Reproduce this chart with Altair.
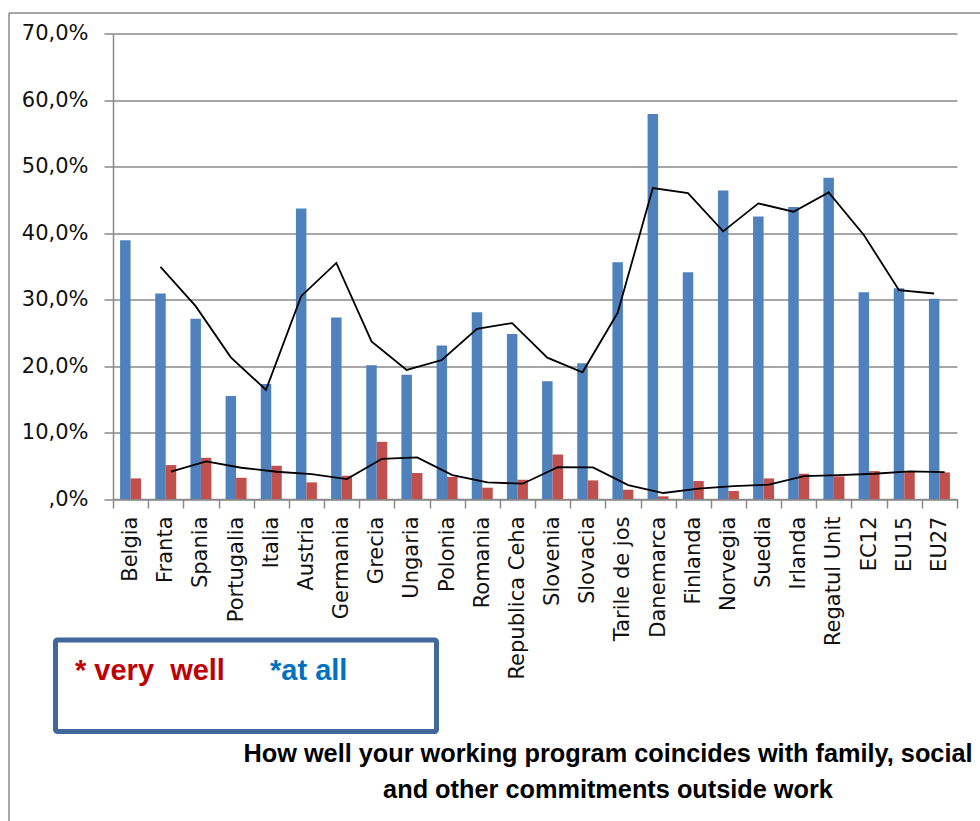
import altair as alt
import pandas as pd

countries = ["Belgia", "Franta", "Spania", "Portugalia", "Italia", "Austria", "Germania",
             "Grecia", "Ungaria", "Polonia", "Romania", "Republica Ceha", "Slovenia",
             "Slovacia", "Tarile de jos", "Danemarca", "Finlanda", "Norvegia", "Suedia",
             "Irlanda", "Regatul Unit", "EC12", "EU15", "EU27"]
at_all = [38.9, 30.9, 27.1, 15.5, 17.3, 43.7, 27.3, 20.1, 18.7, 23.1, 28.1, 24.8,
          17.7, 20.4, 35.6, 57.9, 34.1, 46.4, 42.5, 43.9, 48.3, 31.1, 31.7, 30.1]
very_well = [3.1, 5.1, 6.2, 3.2, 5.0, 2.5, 3.5, 8.6, 3.9, 3.3, 1.7, 2.9,
             6.7, 2.8, 1.4, 0.4, 2.7, 1.2, 3.1, 3.8, 3.4, 4.2, 4.1, 4.0]
series_names = ["at all", "very well"]
series_colors = ["#4f81bd", "#c0504d"]
y_ticks = [0, 10, 20, 30, 40, 50, 60, 70]
legend_texts = ["*\u00a0very \u00a0well", "*at all"]
legend_colors = ["#c00000", "#0070c0"]
title_lines = ["How well your working program coincides with family, social",
               "and other commitments outside work"]

rows = []
for i, c in enumerate(countries):
    rows.append({"country": c, "idx": i, "series": series_names[0], "value": at_all[i]})
    rows.append({"country": c, "idx": i, "series": series_names[1], "value": very_well[i]})
df = pd.DataFrame(rows)

GRAY = "#8a8a8a"
AXFONT = "DejaVu Sans"

x_enc = alt.X(
    "country:N", sort=countries,
    scale=alt.Scale(paddingInner=0, paddingOuter=0),
    axis=alt.Axis(title=None, labelAngle=-90, tickBand="extent", grid=False,
                  domainColor=GRAY, domainWidth=1.5, tickColor=GRAY, tickWidth=1.5,
                  tickSize=9, labelPadding=8, labelFont=AXFONT, labelFontSize=21,
                  labelColor="#111111", labelLimit=400),
)
y_axis = alt.Axis(
    title=None, values=y_ticks,
    labelExpr="datum.value == 0 ? ',0%' : replace(format(datum.value, '.1f'), '.', ',') + '%'",
    grid=True, gridColor=GRAY, gridWidth=1.5, domainColor=GRAY, domainWidth=1.5,
    tickColor=GRAY, tickWidth=1.5, tickSize=9, labelPadding=16,
    labelFont=AXFONT, labelFontSize=21, labelColor="#111111",
)
y_scale = alt.Scale(domain=[0, 70], nice=False)

bars = alt.Chart(df).mark_bar().encode(
    x=x_enc,
    xOffset=alt.XOffset("series:N", sort=series_names,
                        scale=alt.Scale(paddingOuter=0.675, paddingInner=0)),
    y=alt.Y("value:Q", scale=y_scale, axis=y_axis),
    color=alt.Color("series:N", scale=alt.Scale(domain=series_names, range=series_colors),
                    legend=None),
)


def ma_line(name, off):
    return (
        alt.Chart(df)
        .transform_filter(alt.datum.series == name)
        .transform_window(ma="mean(value)", frame=[-1, 0], sort=[alt.SortField("idx")])
        .transform_window(rn="row_number()", sort=[alt.SortField("idx")])
        .transform_filter("datum.rn > 1")
        .mark_line(color="black", strokeWidth=1.8, xOffset=off)
        .encode(x=x_enc, y=alt.Y("ma:Q", scale=y_scale, axis=y_axis), order="idx:Q")
    )


line_top = ma_line(series_names[0], -5.25)
line_bottom = ma_line(series_names[1], 5.25)

one = alt.Data(values=[{"k": 1}])

border_left = alt.Chart(one).mark_rule(color=GRAY, strokeWidth=1.5).encode(
    x=alt.value(-104), y=alt.value(-20.5), y2=alt.value(790))
border_top = alt.Chart(one).mark_rule(color=GRAY, strokeWidth=1.5).encode(
    x=alt.value(-104), x2=alt.value(870), y=alt.value(-20.5))

legend_box = alt.Chart(one).mark_rect(fill="white", stroke="#41679b", strokeWidth=5,
                                      cornerRadius=2).encode(
    x=alt.value(-57.5), x2=alt.value(323.5), y=alt.value(606.5), y2=alt.value(698))

legend_t1 = alt.Chart(one).mark_text(text=legend_texts[0], align="left", baseline="alphabetic",
                                     font="Liberation Sans", fontWeight="bold", fontSize=29,
                                     color=legend_colors[0]).encode(
    x=alt.value(-38), y=alt.value(646.5))
legend_t2 = alt.Chart(one).mark_text(text=legend_texts[1], align="left", baseline="alphabetic",
                                     font="Liberation Sans", fontWeight="bold", fontSize=29,
                                     color=legend_colors[1]).encode(
    x=alt.value(157), y=alt.value(646.5))

title = alt.Chart(one).mark_text(text=title_lines, align="center", baseline="alphabetic",
                                 font="Liberation Sans", fontWeight="bold", fontSize=25.3,
                                 lineHeight=36, color="black").encode(
    x=alt.value(495), y=alt.value(728.5))

chart = alt.layer(
    bars, line_top, line_bottom, border_left, border_top, legend_box,
    legend_t1, legend_t2, title,
).properties(
    width=844, height=465.5,
    autosize=alt.AutoSizeParams(type="none"),
    padding={"left": 113, "top": 33.5, "right": 23, "bottom": 322},
).configure_view(strokeWidth=0)

chart.save("out.html", embed_options={"renderer": "svg", "actions": False})
